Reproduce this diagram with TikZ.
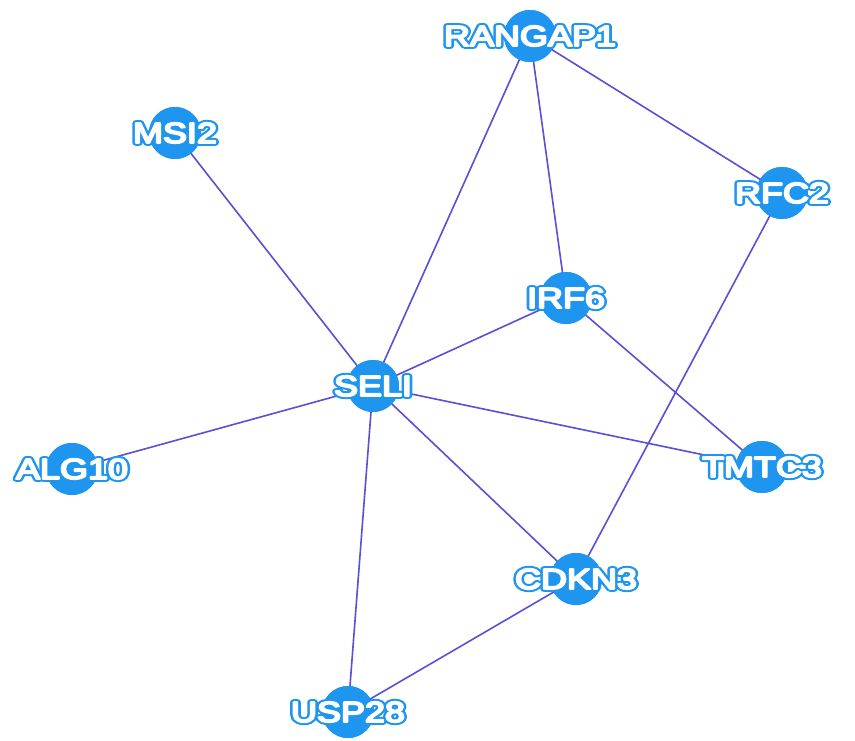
\documentclass[tikz,border=0pt]{standalone}
\usepackage{fontspec}
\setmainfont{Liberation Sans}
% blue halo copy (heavy stroke) and emboldened white face
\newfontfamily\halofont[FakeBold=20]{Liberation Sans}
\newfontfamily\facefont[FakeBold=6]{Liberation Sans}
\definecolor{nodeblue}{HTML}{1E96F0}
\definecolor{edgepurple}{HTML}{5A4FD6}
% round stroke joins so the halo has no spikes
\newcommand{\roundjoins}{\special{pdf:literal direct 1 j 1 J}}
\newcommand{\genelabel}[1]{\roundjoins\scalebox{1.24}[1]{\rlap{\halofont\textcolor{nodeblue}{#1}}\facefont\textcolor{white}{#1}}}
\tikzset{
  gene/.style={circle, fill=nodeblue, minimum size=52pt, inner sep=0pt},
  genetext/.style={inner sep=0pt, font=\fontsize{29}{29}\selectfont},
  link/.style={draw=edgepurple, line width=1.6pt}
}
\begin{document}
\begin{tikzpicture}[x=1pt, y=-1pt]
  \useasboundingbox[fill=white] (0,0) rectangle (855,741);
  % protein nodes
  \node[gene] (rangap1) at (530,36)  {};
  \node[gene] (msi2)    at (175,133) {};
  \node[gene] (rfc2)    at (782,193) {};
  \node[gene] (irf6)    at (566,298) {};
  \node[gene] (seli)    at (373,386) {};
  \node[gene] (alg10)   at (72,469)  {};
  \node[gene] (tmtc3)   at (762,467) {};
  \node[gene] (cdkn3)   at (576,579) {};
  \node[gene] (usp28)   at (348,712) {};
  % interactions
  \draw[link] (msi2.center) -- (seli.center);
  \draw[link] (rangap1.center) -- (seli.center);
  \draw[link] (rangap1.center) -- (irf6.center);
  \draw[link] (rangap1.center) -- (rfc2.center);
  \draw[link] (rfc2.center) -- (cdkn3.center);
  \draw[link] (irf6.center) -- (seli.center);
  \draw[link] (irf6.center) -- (tmtc3.center);
  \draw[link] (seli.center) -- (alg10.center);
  \draw[link] (seli.center) -- (tmtc3.center);
  \draw[link] (seli.center) -- (cdkn3.center);
  \draw[link] (seli.center) -- (usp28.center);
  \draw[link] (cdkn3.center) -- (usp28.center);
  % discs drawn again on top of the lines
  \foreach \n in {rangap1,msi2,rfc2,irf6,seli,alg10,tmtc3,cdkn3,usp28}
    \fill[nodeblue] (\n.center) circle (26pt);
  % outlined labels
  \node[genetext] (trangap1) at (rangap1) {\genelabel{RANGAP1}};
  \node[genetext] (tmsi2)    at (msi2)    {\genelabel{MSI2}};
  \node[genetext] (trfc2)    at (rfc2)    {\genelabel{RFC2}};
  \node[genetext] (tirf6)    at (irf6)    {\genelabel{IRF6}};
  \node[genetext] (tseli)    at (seli)    {\genelabel{SELI}};
  \node[genetext] (talg10)   at (alg10)   {\genelabel{ALG10}};
  \node[genetext] (ttmtc3)   at (tmtc3)   {\genelabel{TMTC3}};
  \node[genetext] (tcdkn3)   at (cdkn3)   {\genelabel{CDKN3}};
  \node[genetext] (tusp28)   at (usp28)   {\genelabel{USP28}};
\end{tikzpicture}
\end{document}
